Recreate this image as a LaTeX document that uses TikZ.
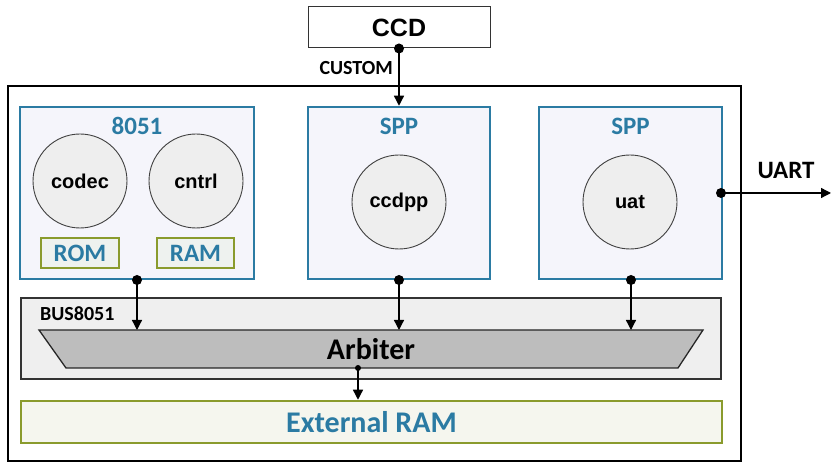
\documentclass[tikz,border=0pt]{standalone}
\usepackage{fontspec}
\newfontfamily\calfont{Carlito}
\newfontfamily\arifont{Liberation Sans}
\usetikzlibrary{arrows.meta}
\definecolor{tealb}{HTML}{2B7BA3}
\definecolor{boxfill}{HTML}{F5F5FB}
\definecolor{olive}{HTML}{8A9B2D}
\definecolor{romfill}{HTML}{EEF2EF}
\definecolor{extfill}{HTML}{F5F6EE}
\definecolor{busfill}{HTML}{EFEFEF}
\definecolor{arbfill}{HTML}{BDBDBD}
\definecolor{circfill}{HTML}{EEEEEE}
\tikzset{
  blk/.style={draw=tealb, line width=2.5pt, fill=boxfill, minimum width=#1, minimum height=172pt, inner sep=0pt},
  mem/.style={draw=olive, line width=2.5pt, fill=romfill, minimum width=78pt, minimum height=30pt, inner sep=0pt,
    text=tealb, font=\calfont\bfseries\fontsize{25}{28}\selectfont},
  proc/.style={circle, draw=black!75, line width=0.9pt, fill=circfill, minimum size=94pt, inner sep=0pt,
    font=\arifont\bfseries\fontsize{20}{24}\selectfont},
  ttl/.style={text=tealb, font=\calfont\bfseries\fontsize{25}{28}\selectfont, inner sep=0pt},
  conn/.style={line width=1.3pt, -{Triangle[length=10pt,width=10pt]}},
  dotc/.style={circle, fill=black, inner sep=0pt, minimum size=10pt},
  lbl/.style={font=\calfont\bfseries\fontsize{20}{24}\selectfont, inner sep=0pt}
}
\begin{document}
\begin{tikzpicture}[x=1pt,y=-1pt]
\useasboundingbox (0,0) rectangle (831,462);
% CCD
\node[draw=black!80, line width=1pt, fill=white, minimum width=182pt, minimum height=41pt, inner sep=0pt,
  font=\arifont\bfseries\fontsize{25}{28}\selectfont] (ccd) at (399,27.5) {CCD};
% outer chip box
\node[draw=black, line width=2pt, minimum width=733pt, minimum height=375pt, inner sep=0pt] (chip) at (374.5,273.5) {};
% processor blocks
\node[blk=234pt] (b8051) at (137,193) {};
\node[blk=182pt] (spp1) at (399,193) {};
\node[blk=183pt] (spp2) at (630.5,193) {};
\node[ttl] (t8051) at (137,126) {8051};
\node[ttl] (tspp1) at (399,126) {SPP};
\node[ttl] (tspp2) at (630.5,126) {SPP};
\node[proc] (codec) at (80,181) {codec};
\node[proc] (cntrl) at (196,181) {cntrl};
\node[proc] (ccdpp) at (399,202) {ccdpp};
\node[proc] (uat) at (630,202) {uat};
\node[mem] (rom) at (80,253) {ROM};
\node[mem, minimum width=77pt] (ram) at (195.5,253) {RAM};
% bus
\node[draw=black!80, line width=1.3pt, fill=busfill, minimum width=700pt, minimum height=81pt, inner sep=0pt] (bus) at (371,338.5) {};
\node[lbl, anchor=west] (busl) at (40,314) {BUS8051};
\draw[line width=1.3pt, draw=black!85, fill=arbfill] (39,330) -- (703,330) -- (678,368) -- (66,368) -- cycle;
\node[font=\calfont\bfseries\fontsize{30}{34}\selectfont, inner sep=0pt] (arb) at (371,349) {Arbiter};
\coordinate (arbA) at (137,330);
\coordinate (arbB) at (399,330);
\coordinate (arbC) at (631,330);
\coordinate (arbO) at (358,368);
% external RAM
\node[draw=olive, line width=2.5pt, fill=extfill, minimum width=701pt, minimum height=42pt, inner sep=0pt,
  text=tealb, font=\calfont\bfseries\fontsize{30}{34}\selectfont] (ext) at (371.5,422) {External RAM};
% connectors
\node[dotc] (dccd) at (ccd.south) {};
\draw[conn] (dccd.center) -- (spp1.north);
\node[lbl, anchor=east] (custom) at (393,68) {CUSTOM};
\node[dotc] (d1) at (137,280) {};
\node[dotc] (d2) at (399,280) {};
\node[dotc] (d3) at (631,280) {};
\draw[conn] (d1.center) -- (arbA);
\draw[conn] (d2.center) -- (arbB);
\draw[conn] (d3.center) -- (arbC);
\node[circle, fill=black, inner sep=0pt, minimum size=6pt] (darb) at (arbO) {};
\draw[conn] (darb.center) -- (ext.north -| darb);
\node[dotc] (duart) at (721,193) {};
\coordinate (uartend) at (831,193);
\draw[conn] (duart.center) -- (uartend);
\node[lbl, font=\calfont\bfseries\fontsize{25}{28}\selectfont] (uart) at (786,170) {UART};
\end{tikzpicture}
\end{document}
